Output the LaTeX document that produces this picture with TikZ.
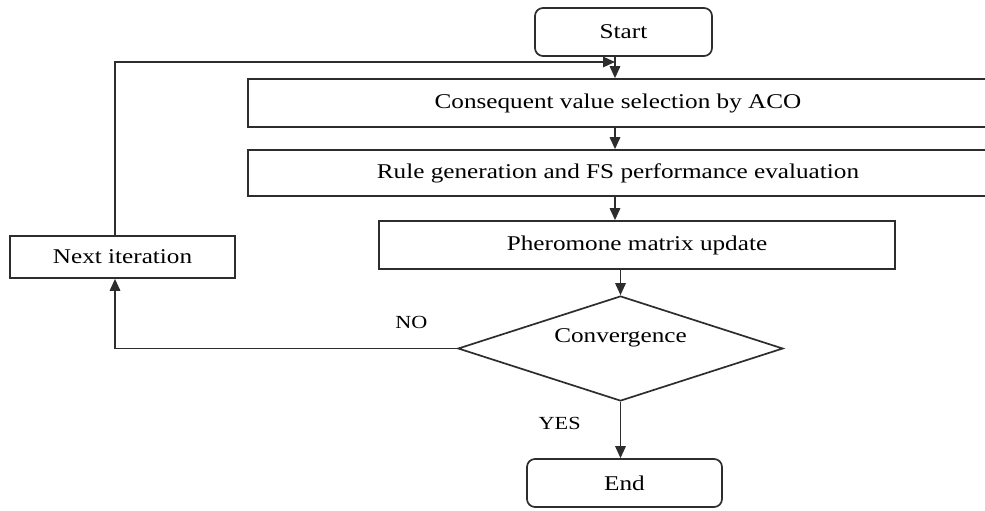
\documentclass[tikz,border=0pt]{standalone}
\usepackage{fontspec}
\setmainfont{Liberation Serif}[FakeStretch=1.2]
\usepackage{tikz}
\usetikzlibrary{arrows.meta,shapes,positioning,calc}
\definecolor{linegray}{RGB}{45,45,45}

\tikzset{
  box/.style={draw=linegray, line width=1.7pt, rectangle, inner sep=0pt,
    font=\fontsize{21}{25}\selectfont},
  term/.style={box, rounded corners=8pt},
  decision/.style={box, diamond, aspect=3.1},
  flow/.style={draw=linegray, line width=1.7pt, -{Triangle[length=12pt,width=10.5pt]}},
  answer/.style={inner sep=0pt, font=\fontsize{18.5}{22}\selectfont}
}

\begin{document}
\begin{tikzpicture}[x=1pt,y=-1pt]
    \useasboundingbox (0,0) rectangle (985,511);

    % Terminals and process boxes
    \node[term, minimum width=177pt, minimum height=48pt] (start) at (623.5,32) {Start};
    \node[box, minimum width=740pt, minimum height=48pt] (aco) at (618,103) {Consequent value selection by ACO};
    \node[box, minimum width=740pt, minimum height=46pt] (rulegen) at (618,173) {Rule generation and FS performance evaluation};
    \node[box, minimum width=516pt, minimum height=48pt] (phero) at (637,245) {Pheromone matrix update};
    \node[box, minimum width=225pt, minimum height=42pt] (nextit) at (122.5,257) {Next iteration};

    % Decision
    \node[decision, minimum width=325pt, minimum height=105pt, text depth=25pt] (conv) at (620.5,348.5) {Convergence};
    \node[term, minimum width=195pt, minimum height=48pt] (finish) at (624.5,483) {End};

    % Main flow
    \coordinate (join) at (615,62);
    \draw[flow] (start.south -| join) -- (aco.north -| join);
    \draw[flow] (aco.south -| join) -- (rulegen.north -| join);
    \draw[flow] (rulegen.south -| join) -- (phero.north -| join);
    \draw[flow] (phero.south -| conv.north) -- (conv.north);
    \draw[flow] (conv.south) -- (conv.south |- finish.north)
        node[answer, pos=0.38, left=39pt] {YES};

    % Loop back
    \draw[flow] (conv.west) -| ([xshift=-7.5pt]nextit.south)
        node[answer, pos=0.067, above=18.5pt] {NO};
    \draw[flow] ([xshift=-7.5pt]nextit.north) |- (join);

\end{tikzpicture}
\end{document}
